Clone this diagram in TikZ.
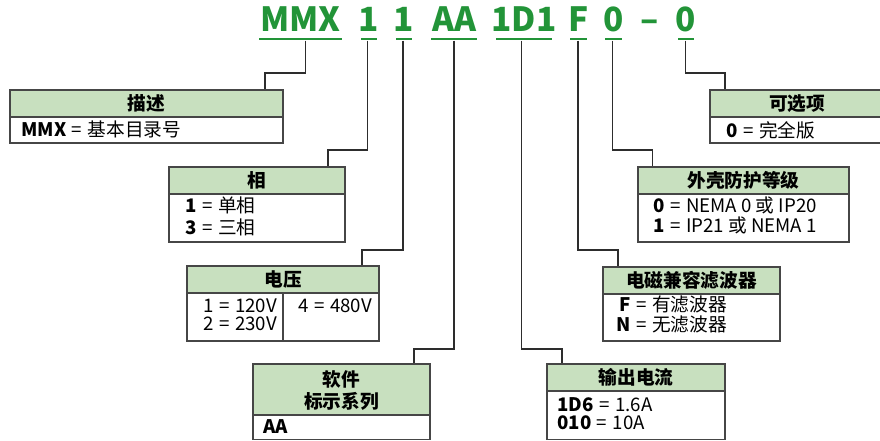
\documentclass[tikz,border=0pt]{standalone}
\usepackage{fontspec}
\setmainfont{Noto Sans CJK SC}
\usetikzlibrary{fit}
\definecolor{codegreen}{RGB}{34,148,56}
\definecolor{hdrfill}{RGB}{200,224,191}
\definecolor{edgecol}{RGB}{70,70,70}
\definecolor{wirecol}{RGB}{45,45,45}
\newcommand\myeq{\hspace{0.3em}=\hspace{0.3em}}
\begin{document}
\begin{tikzpicture}[x=0.75pt,y=-0.75pt,
  hdr/.style={draw=edgecol, line width=0.8pt, fill=hdrfill, inner sep=0pt},
  bodybox/.style={draw=edgecol, line width=0.8pt, fill=white, inner sep=0pt},
  hdtext/.style={font=\fontsize{14pt}{16.5pt}\selectfont\bfseries, inner sep=0pt, align=center},
  btext/.style={font=\fontsize{14pt}{16pt}\selectfont, inner sep=0pt, anchor=base west},
  code/.style={font=\fontsize{25pt}{30pt}\selectfont\bfseries, text=codegreen, inner sep=0pt, anchor=base},
  uline/.style={fill=codegreen, inner sep=0pt},
  wire/.style={draw=wirecol, line width=0.9pt}]
\useasboundingbox (0,0) rectangle (880,441);
\clip (0,0) rectangle (880,441);

% --- model code ---
\node[code] (c1) at (300.5,32) {MMX};
\node[code] (c2) at (369,32) {1};
\node[code] (c3) at (404,32) {1};
\node[code] (c4) at (454,32) {AA};
\node[code] (c5) at (524,32) {1D1};
\node[code] (c6) at (578.5,32) {F};
\node[code] (c7) at (613.5,32) {0};
\node[code] (c8) at (649.5,32) {–};
\node[code] (c9) at (686,32) {0};

\node[uline, fit={(259,37.7) (342,40.3)}] (u1) {};
\node[uline, fit={(361,37.7) (377,40.3)}] (u2) {};
\node[uline, fit={(396,37.7) (412,40.3)}] (u3) {};
\node[uline, fit={(431,37.7) (477,40.3)}] (u4) {};
\node[uline, fit={(496,37.7) (552,40.3)}] (u5) {};
\node[uline, fit={(570,37.7) (587,40.3)}] (u6) {};
\node[uline, fit={(605,37.7) (622,40.3)}] (u7) {};
\node[uline, fit={(678,37.7) (694,40.3)}] (u9) {};

% --- boxes ---
% 1 描述
\node[hdr, fit={(10,90) (283,117)}] (h1) {};
\node[bodybox, fit={(10,117) (283,143)}] (b1) {};
\node[hdtext] (h1t) at (h1.center) {描述};
\node[btext] (b1a) at (21,136.5) {\textbf{MMX}\myeq 基本目录号};

% 2 相
\node[hdr, fit={(169,167) (345,194)}] (h2) {};
\node[bodybox, fit={(169,194) (345,242)}] (b2) {};
\node[hdtext] (h2t) at (h2.center) {相};
\node[btext] (b2a) at (185,212.5) {\textbf{1}\myeq 单相};
\node[btext] (b2b) at (185,235) {\textbf{3}\myeq 三相};

% 3 电压
\node[hdr, fit={(187,266) (379,293)}] (h3) {};
\node[bodybox, fit={(187,293) (379,341)}] (b3) {};
\node[hdtext] (h3t) at (h3.center) {电压};
\draw[draw=edgecol, line width=0.8pt] (283,0 |- b3.north) -- (283,0 |- b3.south);
\node[btext] (b3a) at (203,312) {1\myeq 120V};
\node[btext] (b3b) at (203,330) {2\myeq 230V};
\node[btext] (b3c) at (298,312) {4\myeq 480V};

% 4 软件标示系列
\node[hdr, fit={(253,364) (430,415)}] (h4) {};
\node[bodybox, fit={(253,415) (430,439.5)}] (b4) {};
\node[hdtext] (h4t) at (341.5,390.5) {软件\\标示系列};
\node[btext] (b4a) at (263,433) {\textbf{AA}};

% 5 输出电流
\node[hdr, fit={(547,364) (725,391)}] (h5) {};
\node[bodybox, fit={(547,391) (725,439.5)}] (b5) {};
\node[hdtext] (h5t) at (h5.center) {输出电流};
\node[btext] (b5a) at (557,411) {\textbf{1D6}\myeq 1.6A};
\node[btext] (b5b) at (557,429) {\textbf{010}\myeq 10A};

% 6 外壳防护等级
\node[hdr, fit={(638,167) (849,194)}] (h6) {};
\node[bodybox, fit={(638,194) (849,242)}] (b6) {};
\node[hdtext] (h6t) at (h6.center) {外壳防护等级};
\node[btext] (b6a) at (653,213) {\textbf{0}\myeq NEMA 0 或 IP20};
\node[btext] (b6b) at (653,233) {\textbf{1}\myeq IP21 或 NEMA 1};

% 7 电磁兼容滤波器
\node[hdr, fit={(603,267) (780,294)}] (h7) {};
\node[bodybox, fit={(603,294) (780,341)}] (b7) {};
\node[hdtext] (h7t) at (h7.center) {电磁兼容滤波器};
\node[btext] (b7a) at (619,311.5) {\textbf{F}\myeq 有滤波器};
\node[btext] (b7b) at (616,331.5) {\textbf{N}\myeq 无滤波器};

% 8 可选项
\node[hdr, fit={(710,90) (884,117)}] (h8) {};
\node[bodybox, fit={(710,117) (884,143)}] (b8) {};
\node[hdtext] (h8t) at (h8.center) {可选项};
\node[btext] (b8a) at (726,138) {\textbf{0}\myeq 完全版};

% --- connectors ---
\draw[wire] (305.7,0 |- u1.south) |- (265,73) -- (265,0 |- h1.north);
\draw[wire] (367.7,0 |- u2.south) |- (328,150) -- (328,0 |- h2.north);
\draw[wire] (403,0 |- u3.south) |- (362,250) -- (362,0 |- h3.north);
\draw[wire] (454,0 |- u4.south) |- (414,349) -- (414,0 |- h4.north);
\draw[wire] (521.7,0 |- u5.south) |- (562,349) -- (562,0 |- h5.north);
\draw[wire] (578,0 |- u6.south) |- (618,250) -- (618,0 |- h7.north);
\draw[wire] (612.7,0 |- u7.south) |- (652.7,150) -- (652.7,0 |- h6.north);
\draw[wire] (685.7,0 |- u9.south) |- (725,73) -- (725,0 |- h8.north);
\end{tikzpicture}
\end{document}
